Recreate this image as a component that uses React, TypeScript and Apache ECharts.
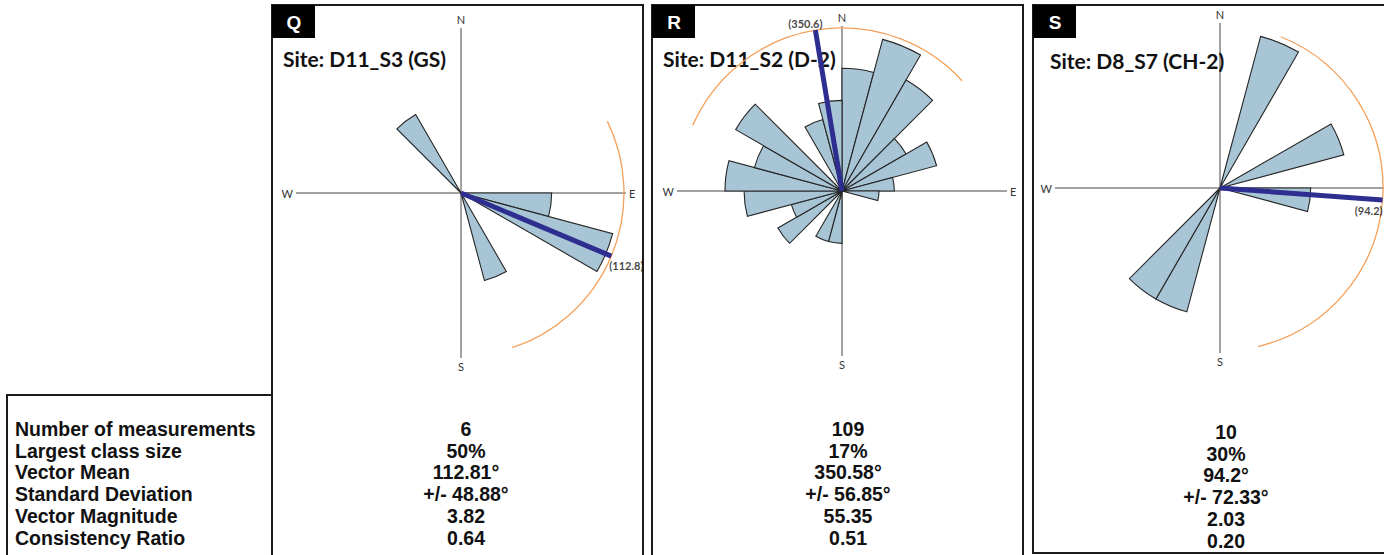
import React, { useEffect, useRef } from "react";
import * as echarts from "echarts";

// ---------- data ----------
const binStarts = [0, 15, 30, 45, 60, 75, 90, 105, 120, 135, 150, 165, 180, 195, 210, 225, 240, 255, 270, 285, 300, 315, 330, 345];

const panelLetters = ["Q", "R", "S"];
const siteNames = ["Site: D11_S3 (GS)", "Site: D11_S2 (D-2)", "Site: D8_S7 (CH-2)"];

// counts per 15° class (class start listed in binStarts)
const countsQ = [0, 0, 0, 0, 0, 0, 1, 3, 0, 0, 1, 0, 0, 0, 0, 0, 0, 0, 0, 0, 0, 1, 0, 0];
const countsR = [11, 18, 12, 4, 7, 2, 1, 0, 0, 0, 0, 0, 2, 2, 0, 4, 2, 7, 10, 6, 11, 0, 4, 6];
const countsS = [0, 3, 0, 0, 2, 0, 1, 0, 0, 0, 0, 0, 0, 2, 2, 0, 0, 0, 0, 0, 0, 0, 0, 0];

const vectorMeans = [112.8, 350.6, 94.2];
const stdDevs = [48.88, 56.85, 72.33];
const meanLabels = ["(112.8)", "(350.6)", "(94.2)"];

const statLabels = [
  "Number of measurements",
  "Largest class size",
  "Vector Mean",
  "Standard Deviation",
  "Vector Magnitude",
  "Consistency Ratio",
];
const statsQ = ["6", "50%", "112.81°", "+/- 48.88°", "3.82", "0.64"];
const statsR = ["109", "17%", "350.58°", "+/- 56.85°", "55.35", "0.51"];
const statsS = ["10", "30%", "94.2°", "+/- 72.33°", "2.03", "0.20"];

const compassLabels = ["N", "E", "S", "W"];

// ---------- layout / style ----------
const centers = [
  [461, 193],
  [842, 191],
  [1220, 188],
];
const POLAR_R = 165;
const RMAX = 165 / 157; // radius-axis maximum (largest petal = 1)
const RVEC = 163 / 157; // vector line / SD arc radius
const PETAL = "#A8C5D6";
const PETAL_BORDER = "#262626";
const VEC = "#2E2E90";
const ARC = "#F4A05A";
const CAL = "Lato, 'Open Sans', sans-serif";
const ARIAL = "'Liberation Sans', Arial, sans-serif";

const panelX = [272, 652, 1033];
const valueCx = [466, 848, 1226];
const rowY = [429, 451, 472, 494, 516, 538];
const rowShift = [0, 0, 3];
const showEast = [true, true, false]; // E of panel S lies beyond the page edge

export default function App() {
  const ref = useRef<HTMLDivElement>(null);

  useEffect(() => {
    document.body.style.margin = "0";
    const chart = echarts.init(ref.current!, null, { renderer: "svg" });
    const countSets = [countsQ, countsR, countsS];
    const statSets = [statsQ, statsR, statsS];

    const polar: any[] = [];
    const angleAxis: any[] = [];
    const radiusAxis: any[] = [];
    const series: any[] = [];

    countSets.forEach((counts, i) => {
      const [cx, cy] = centers[i];
      // polar for petals (category angle axis)
      polar.push({ center: [cx, cy], radius: POLAR_R });
      angleAxis.push({
        polarIndex: i * 2,
        type: "category",
        data: binStarts.map(String),
        startAngle: 90,
        clockwise: true,
        boundaryGap: true,
        axisLine: { show: false },
        axisTick: { show: false },
        axisLabel: { show: false },
        splitLine: { show: false },
      });
      radiusAxis.push({
        polarIndex: i * 2,
        type: "value",
        min: 0,
        max: RMAX,
        axisLine: { show: false },
        axisTick: { show: false },
        axisLabel: { show: false },
        splitLine: { show: false },
      });
      // polar for compass lines, vector mean and SD arc (value angle axis)
      polar.push({ center: [cx, cy], radius: POLAR_R });
      angleAxis.push({
        polarIndex: i * 2 + 1,
        type: "value",
        min: 0,
        max: 360,
        interval: 90,
        startAngle: 90,
        clockwise: true,
        axisLine: { show: false },
        axisTick: { show: false },
        axisLabel: {
          show: true,
          margin: 3,
          color: "#333",
          fontSize: 11,
          fontFamily: CAL,
          formatter: (v: number) => {
            if (v >= 360) return "";
            if (v === 90 && !showEast[i]) return "";
            return compassLabels[Math.round(v / 90)];
          },
        },
        splitLine: { show: true, lineStyle: { color: "#444", width: 1 } },
      });
      radiusAxis.push({
        polarIndex: i * 2 + 1,
        type: "value",
        min: 0,
        max: RMAX,
        axisLine: { show: false },
        axisTick: { show: false },
        axisLabel: { show: false },
        splitLine: { show: false },
      });

      const maxCount = Math.max(...counts);
      series.push({
        type: "bar",
        coordinateSystem: "polar",
        polarIndex: i * 2,
        barCategoryGap: "0%",
        data: counts.map((c) => (c > 0 ? Math.sqrt(c / maxCount) : "-")),
        itemStyle: { color: PETAL, borderColor: PETAL_BORDER, borderWidth: 1.1 },
        z: 3,
      });
      series.push({
        type: "custom",
        coordinateSystem: "polar",
        polarIndex: i * 2 + 1,
        data: [[RVEC, vectorMeans[i], stdDevs[i]]],
        renderItem: (params: any, api: any) => {
          const r = api.value(0);
          const m = api.value(1);
          const sd = api.value(2);
          const c = api.coord([0, m]);
          const p = api.coord([r, m]);
          const rad = Math.hypot(p[0] - c[0], p[1] - c[1]);
          const toA = (b: number) => ((b - 90) * Math.PI) / 180;
          return {
            type: "arc",
            shape: { cx: c[0], cy: c[1], r: rad, startAngle: toA(m - sd), endAngle: toA(m + sd), clockwise: true },
            style: { stroke: ARC, lineWidth: 1.3, fill: null },
          };
        },
        z: 4,
      });
      series.push({
        type: "line",
        coordinateSystem: "polar",
        polarIndex: i * 2 + 1,
        data: [
          [0, vectorMeans[i]],
          [RVEC, vectorMeans[i]],
        ],
        symbol: "none",
        lineStyle: { color: VEC, width: 5 },
        z: 5,
      });
      const labelPos: any[] = [
        { position: "bottom", align: "left", offset: [-2, -2] },
        { position: "top", align: "center", offset: [-10, 4] },
        { position: "bottom", align: "right", offset: [0, 0] },
      ];
      series.push({
        type: "scatter",
        coordinateSystem: "polar",
        polarIndex: i * 2 + 1,
        data: [[RVEC, vectorMeans[i]]],
        symbolSize: 1,
        itemStyle: { color: "rgba(0,0,0,0)" },
        label: {
          show: true,
          formatter: meanLabels[i],
          position: labelPos[i].position,
          align: labelPos[i].align,
          offset: labelPos[i].offset,
          color: "#111",
          fontSize: 11,
          fontWeight: "bold",
          fontFamily: CAL,
        },
        z: 6,
      });
    });

    const graphics: any[] = [];
    // panel frames
    graphics.push({ type: "rect", shape: { x: panelX[0], y: 5, width: 371, height: 600 }, style: { fill: "none", stroke: "#1b1b1b", lineWidth: 2 }, z: 0 });
    graphics.push({ type: "rect", shape: { x: panelX[1], y: 5, width: 371, height: 600 }, style: { fill: "none", stroke: "#1b1b1b", lineWidth: 2 }, z: 0 });
    graphics.push({ type: "rect", shape: { x: panelX[2], y: 5, width: 400, height: 548 }, style: { fill: "none", stroke: "#1b1b1b", lineWidth: 2 }, z: 0 });
    graphics.push({ type: "rect", shape: { x: 7, y: 395, width: 265, height: 200 }, style: { fill: "none", stroke: "#1b1b1b", lineWidth: 2 }, z: 0 });

    panelLetters.forEach((L, i) => {
      graphics.push({ type: "rect", shape: { x: panelX[i], y: 5, width: 43, height: 33 }, style: { fill: "#000" }, z: 1 });
      graphics.push({
        type: "text",
        x: panelX[i] + 22,
        y: 22,
        style: { text: L, fill: "#fff", fontSize: 19, fontWeight: "bold", fontFamily: ARIAL, textAlign: "center", textVerticalAlign: "middle" },
        z: 2,
      });
      graphics.push({
        type: "text",
        x: [283, 663, 1050][i],
        y: [58, 58, 60][i],
        style: { text: siteNames[i], fill: "#111", fontSize: 21, fontWeight: "bold", fontFamily: CAL, textAlign: "left", textVerticalAlign: "middle" },
        z: 1,
      });
      statSets[i].forEach((v, r) => {
        graphics.push({
          type: "text",
          x: valueCx[i],
          y: rowY[r] + rowShift[i],
          style: { text: v, fill: "#111", fontSize: 19.5, fontWeight: "bold", fontFamily: ARIAL, textAlign: "center", textVerticalAlign: "middle" },
          z: 1,
        });
      });
    });
    statLabels.forEach((t, r) => {
      graphics.push({
        type: "text",
        x: 15,
        y: rowY[r],
        style: { text: t, fill: "#111", fontSize: 19.5, fontWeight: "bold", fontFamily: ARIAL, textAlign: "left", textVerticalAlign: "middle" },
        z: 1,
      });
    });

    chart.setOption({
      animation: false,
      backgroundColor: "#fff",
      polar,
      angleAxis,
      radiusAxis,
      series,
      graphic: { elements: graphics },
    });
    return () => chart.dispose();
  }, []);

  return <div ref={ref} style={{ position: "absolute", left: 0, top: 0, width: 1384, height: 555 }} />;
}
